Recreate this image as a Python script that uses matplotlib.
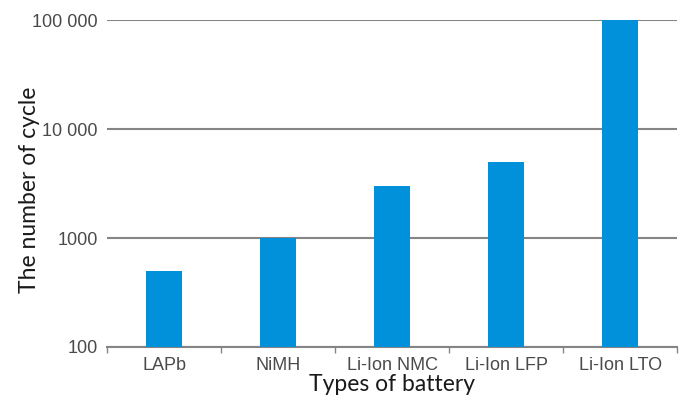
import matplotlib.pyplot as plt
from matplotlib.ticker import FixedLocator, NullLocator, NullFormatter

batteries = ['LAPb', 'NiMH', 'Li-Ion NMC', 'Li-Ion LFP', 'Li-Ion LTO']
cycles = [500, 1000, 3000, 5000, 100000]
y_ticks = [100, 1000, 10000, 100000]
y_tick_labels = ['100', '1000', '10 000', '100 000']

plt.rcParams['font.family'] = ['Liberation Sans', 'DejaVu Sans']

fig = plt.figure(figsize=(6.86, 4.03), dpi=100)
ax = fig.add_axes([0.156, 0.139, 0.831, 0.811])

x = list(range(len(batteries)))
ax.bar(x, cycles, width=0.32, color='#0091DA', zorder=3)

ax.set_yscale('log')
ax.set_ylim(100, 100000)
ax.set_xlim(-0.5, len(batteries) - 0.5)

ax.yaxis.set_major_locator(FixedLocator(y_ticks))
ax.yaxis.set_minor_locator(NullLocator())
ax.set_yticklabels(y_tick_labels)
ax.tick_params(axis='y', length=0, pad=6.5, labelsize=13, labelcolor='#4a4a4a')
ax.grid(axis='y', color='#858585', linewidth=1.5, zorder=0)

ax.set_xticks(x)
ax.set_xticklabels(batteries)
ax.tick_params(axis='x', which='major', length=0, pad=7, labelsize=13, labelcolor='#4a4a4a')
ax.xaxis.set_minor_locator(FixedLocator([i - 0.5 for i in range(len(batteries) + 1)]))
ax.xaxis.set_minor_formatter(NullFormatter())
ax.tick_params(axis='x', which='minor', length=4, width=1, color='#858585')

for side in ['left', 'right', 'top']:
    ax.spines[side].set_visible(False)
ax.spines['bottom'].set_color('#858585')
ax.spines['bottom'].set_linewidth(1.5)

ax.set_xlabel('Types of battery', fontfamily='Lato', fontsize=16.5, color='#1a1a1a', labelpad=0)
ax.set_ylabel('The number of cycle', fontfamily='Lato', fontsize=16.5, color='#1a1a1a')
ax.yaxis.set_label_coords(-0.118, 0.48)

fig.savefig('out.png', dpi=100)
